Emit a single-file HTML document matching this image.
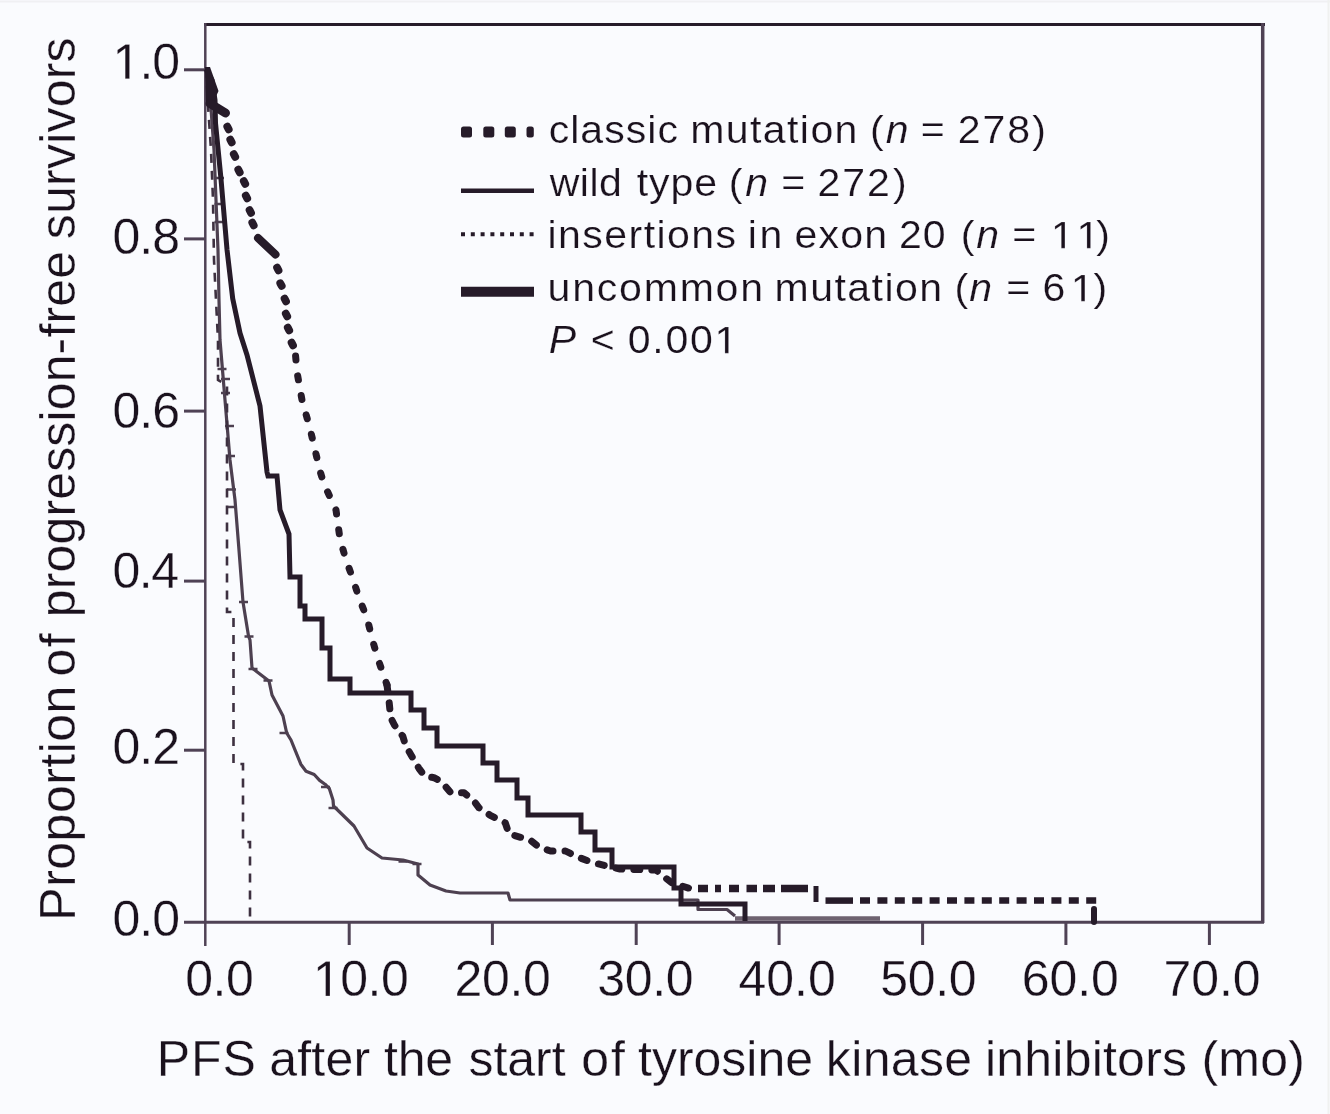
<!DOCTYPE html>
<html><head><meta charset="utf-8"><style>html,body{margin:0;padding:0;background:#fafbfe;}svg{display:block;filter:blur(0.35px);}</style></head>
<body><svg width="1330" height="1114" viewBox="0 0 1330 1114"><rect width="1330" height="1114" fill="#fafbfe"/><line x1="0" y1="1.5" x2="1330" y2="1.5" stroke="#f0f0f3" stroke-width="2"/><line x1="1328.5" y1="0" x2="1328.5" y2="1114" stroke="#f0f1f0" stroke-width="2"/><g fill="none" stroke-linecap="butt"><line x1="204" y1="24.5" x2="1265" y2="24.5" stroke="#261b29" stroke-width="3"/><line x1="1262.7" y1="23" x2="1262.7" y2="923" stroke="#4f4255" stroke-width="3.5"/><line x1="205.3" y1="23" x2="205.3" y2="946" stroke="#4f4255" stroke-width="2.5"/><line x1="184" y1="922.3" x2="1264" y2="922.3" stroke="#4f4255" stroke-width="3"/><line x1="184" y1="69.8" x2="205" y2="69.8" stroke="#4f4255" stroke-width="3"/><line x1="184" y1="238.9" x2="205" y2="238.9" stroke="#4f4255" stroke-width="3"/><line x1="184" y1="411.1" x2="205" y2="411.1" stroke="#4f4255" stroke-width="3"/><line x1="184" y1="581.1" x2="205" y2="581.1" stroke="#4f4255" stroke-width="3"/><line x1="184" y1="750.2" x2="205" y2="750.2" stroke="#4f4255" stroke-width="3"/><line x1="349.2" y1="922" x2="349.2" y2="945" stroke="#4f4255" stroke-width="3"/><line x1="492.4" y1="922" x2="492.4" y2="945" stroke="#4f4255" stroke-width="3"/><line x1="636.2" y1="922" x2="636.2" y2="945" stroke="#4f4255" stroke-width="3"/><line x1="779.1" y1="922" x2="779.1" y2="945" stroke="#4f4255" stroke-width="3"/><line x1="922.6" y1="922" x2="922.6" y2="945" stroke="#4f4255" stroke-width="3"/><line x1="1065.9" y1="922" x2="1065.9" y2="945" stroke="#4f4255" stroke-width="3"/><line x1="1209.4" y1="922" x2="1209.4" y2="945" stroke="#4f4255" stroke-width="3"/></g><polyline points="206,69 210,95 214,150 216,200 218,250 219,300 220,340 225,400 230,460 235,500 238.6,545 243,602 248.5,636 250,640 252,668 269,681 272,695 283,716 286.7,733 291,740 295.4,750.8 300.8,764.2 306,771.2 314.2,774.5 319.6,780.4 325,784.2 329.3,788.5 333,800 333.5,806 354,826 367,848 382,858 403,860 418,864 418,875 430,885 446,891 460,893 508,893 510,900 698,900 698,909.5 727,909.5 735,916" fill="none" stroke="#4d4050" stroke-width="3.2" stroke-linejoin="round"/><polyline points="735,918.5 880,918.5" fill="none" stroke="#6e6270" stroke-width="4.5"/><line x1="217.5" y1="369" x2="226.5" y2="369" stroke="#4d4050" stroke-width="2.5"/><line x1="221.0" y1="379" x2="230.0" y2="379" stroke="#4d4050" stroke-width="2.5"/><line x1="221.0" y1="393" x2="230.0" y2="393" stroke="#4d4050" stroke-width="2.5"/><line x1="225.0" y1="426" x2="234.0" y2="426" stroke="#4d4050" stroke-width="2.5"/><line x1="226.0" y1="456" x2="235.0" y2="456" stroke="#4d4050" stroke-width="2.5"/><line x1="227.0" y1="489.5" x2="236.0" y2="489.5" stroke="#4d4050" stroke-width="2.5"/><line x1="228.0" y1="507" x2="237.0" y2="507" stroke="#4d4050" stroke-width="2.5"/><line x1="239.0" y1="602" x2="248.0" y2="602" stroke="#4d4050" stroke-width="2.5"/><line x1="244.5" y1="636.5" x2="253.5" y2="636.5" stroke="#4d4050" stroke-width="2.5"/><line x1="248.5" y1="669" x2="257.5" y2="669" stroke="#4d4050" stroke-width="2.5"/><line x1="263.5" y1="680.5" x2="272.5" y2="680.5" stroke="#4d4050" stroke-width="2.5"/><line x1="279.5" y1="733" x2="288.5" y2="733" stroke="#4d4050" stroke-width="2.5"/><line x1="321.0" y1="787" x2="330.0" y2="787" stroke="#4d4050" stroke-width="2.5"/><line x1="328.5" y1="808" x2="337.5" y2="808" stroke="#4d4050" stroke-width="2.5"/><line x1="398.5" y1="861.5" x2="407.5" y2="861.5" stroke="#4d4050" stroke-width="2.5"/><line x1="412.5" y1="864" x2="421.5" y2="864" stroke="#4d4050" stroke-width="2.5"/><line x1="215.0" y1="178" x2="224.0" y2="178" stroke="#4d4050" stroke-width="2.5"/><line x1="214.5" y1="204" x2="223.5" y2="204" stroke="#4d4050" stroke-width="2.5"/><line x1="214.5" y1="222" x2="223.5" y2="222" stroke="#4d4050" stroke-width="2.5"/><polyline points="206,69 208,105 211,150 213,200 214,260 216,300 218,340 218,380 227,385 227,612 233.5,612 233.5,764 243,764 243,842 250,842 250,922" fill="none" stroke="#3d3040" stroke-width="2.6" stroke-dasharray="9 8"/><polyline points="206,69 212,80 215,100 215.5,123 221,179 227,249.5 232.7,298.6 240,333 247,355 260,406 267,472 268,476 277,476 280,510 289,534 290,577 300,577 300,606 305,606 305,619 322,619 322,648 330,648 330,679 350,679 350,693 411,693 411,710 424,710 424,728 437,728 437,746 483,746 483,763 497,763 497,780 517,780 517,798 528,798 528,815 581,815 581,832 595,832 595,850 612,850 612,867 674,867 674,888 681,888 681,904 745,904 745,921" fill="none" stroke="#261b29" stroke-width="5" stroke-linejoin="miter"/><polygon points="205,67 210,67 218.5,91 214,101 206,103" fill="#261b29"/><line x1="210" y1="103.5" x2="225.5" y2="113" stroke="#261b29" stroke-width="9" stroke-linecap="round"/><line x1="227.3" y1="126.7" x2="228.7" y2="129.3" stroke="#261b29" stroke-width="7.8" stroke-linecap="round"/><line x1="230.3" y1="139.7" x2="231.7" y2="142.3" stroke="#261b29" stroke-width="7.8" stroke-linecap="round"/><line x1="233.8" y1="154.2" x2="235.2" y2="156.8" stroke="#261b29" stroke-width="7.8" stroke-linecap="round"/><line x1="238.3" y1="169.7" x2="239.7" y2="172.3" stroke="#261b29" stroke-width="7.8" stroke-linecap="round"/><line x1="243.8" y1="181.2" x2="245.2" y2="183.8" stroke="#261b29" stroke-width="7.8" stroke-linecap="round"/><line x1="245.8" y1="195.7" x2="247.2" y2="198.3" stroke="#261b29" stroke-width="7.8" stroke-linecap="round"/><line x1="249.60000000000002" y1="210.2" x2="251.0" y2="212.8" stroke="#261b29" stroke-width="7.8" stroke-linecap="round"/><line x1="252.3" y1="222.7" x2="253.7" y2="225.3" stroke="#261b29" stroke-width="7.8" stroke-linecap="round"/><line x1="277.1" y1="267.7" x2="278.5" y2="270.3" stroke="#261b29" stroke-width="7.8" stroke-linecap="round"/><line x1="280.3" y1="283.3" x2="281.7" y2="285.90000000000003" stroke="#261b29" stroke-width="7.8" stroke-linecap="round"/><line x1="284.6" y1="298.7" x2="286.0" y2="301.3" stroke="#261b29" stroke-width="7.8" stroke-linecap="round"/><line x1="285.8" y1="313.7" x2="287.2" y2="316.3" stroke="#261b29" stroke-width="7.8" stroke-linecap="round"/><line x1="287.8" y1="327.7" x2="289.2" y2="330.3" stroke="#261b29" stroke-width="7.8" stroke-linecap="round"/><line x1="291.6" y1="342.7" x2="293.0" y2="345.3" stroke="#261b29" stroke-width="7.8" stroke-linecap="round"/><line x1="258" y1="238" x2="275.5" y2="254.5" stroke="#261b29" stroke-width="8" stroke-linecap="round"/><polyline points="295.6,356 297,372 302,400 310,428.5 320,471 324,484 336,510 340,539 346,560 353,579 359,598 367,618 373,642 379,662 387,685" fill="none" stroke="#261b29" stroke-width="7" stroke-dasharray="4 16" stroke-linecap="round" stroke-linejoin="round"/><polyline points="387,685 388.8,698.8 390.7,717.6 394.4,725 402.9,736.4 405.7,745.8 418.9,768.3 424.5,775.9 433.9,777.7 441.4,781.5 450.8,792.8 464,792.8 473.4,800.3 479,807.8 490.3,815.3 505.3,822.9 509.1,834.1 529.8,839.8 539.2,847.3 550.5,851 565.5,851 576.8,856.7 591.8,862.3 606.8,866.1 620,869 656,870 663,876 672,883 690,888.5" fill="none" stroke="#261b29" stroke-width="7" stroke-dasharray="6 12" stroke-linecap="round" stroke-linejoin="round"/><polyline points="690,888.5 816,888.5" fill="none" stroke="#261b29" stroke-width="7.5" stroke-dasharray="0 8 10 7 6 8 10 7.5 10.5 6 12 6 27 100"/><line x1="825.5" y1="900.6" x2="853" y2="900.6" stroke="#261b29" stroke-width="6.5"/><line x1="860" y1="900.6" x2="1098" y2="900.6" stroke="#261b29" stroke-width="6.5" stroke-dasharray="10 7.4"/><line x1="816" y1="886" x2="816" y2="902" stroke="#261b29" stroke-width="5"/><line x1="1094" y1="909" x2="1094" y2="922" stroke="#261b29" stroke-width="6" stroke-linecap="round"/><g font-family="Liberation Sans" fill="#1a111d" font-size="50" stroke="#fafbfe" stroke-width="0.3" style="font-kerning:none"><text x="112.60" y="78.8" letter-spacing="-1.00"> .0</text><path d="M515 0L696 0L696 1409L530 1409L197 1180L197 1010L515 1237Z" stroke-width="12.3" transform="translate(112.60,78.8) scale(0.02441,-0.02441)"/><text x="112.40" y="253.8" letter-spacing="-0.90">0.8</text><text x="112.40" y="428.3" letter-spacing="-0.90">0.6</text><text x="112.40" y="588.4" letter-spacing="-1.40">0.4</text><text x="112.40" y="763.8" letter-spacing="-0.90">0.2</text><text x="112.40" y="936" letter-spacing="-0.90">0.0</text><text x="185.20" y="996" letter-spacing="-0.45">0.0</text><text x="313.00" y="996" letter-spacing="-0.50"> 0.0</text><path d="M515 0L696 0L696 1409L530 1409L197 1180L197 1010L515 1237Z" stroke-width="12.3" transform="translate(313.00,996) scale(0.02441,-0.02441)"/><text x="454.60" y="996" letter-spacing="-0.37">20.0</text><text x="597.30" y="996" letter-spacing="-0.37">30.0</text><text x="738.60" y="996" letter-spacing="-0.07">40.0</text><text x="880.20" y="996" letter-spacing="-0.33">50.0</text><text x="1021.70" y="996" letter-spacing="-0.07">60.0</text><text x="1163.40" y="996" letter-spacing="-0.03">70.0</text><text x="156.80" y="1076" letter-spacing="0.90">PFS</text><text x="269.20" y="1076" letter-spacing="0.20">after</text><text x="384.00" y="1076" letter-spacing="-0.25">the</text><text x="468.50" y="1076" letter-spacing="-0.05">start</text><text x="581.20" y="1076" letter-spacing="2.00">of</text><text x="638.00" y="1076" letter-spacing="0.00">tyrosine</text><text x="825.80" y="1076" letter-spacing="0.36">kinase</text><text x="985.00" y="1076" letter-spacing="0.21">inhibitors</text><text x="1201.40" y="1076" letter-spacing="0.27">(mo)</text><g transform="translate(74.5,0) rotate(-90)"><text x="-920.70" y="0" letter-spacing="0.49">Proportion</text><text x="-676.50" y="0" letter-spacing="1.50">of</text><text x="-617.30" y="0" letter-spacing="0.15">progression-free</text><text x="-239.20" y="0" letter-spacing="0.22">survivors</text></g></g><g font-family="Liberation Sans" fill="#1a111d" font-size="38" transform="scale(1.08,1)" stroke="#fafbfe" stroke-width="0.2" style="font-kerning:none"><text x="508.00" y="143.1" letter-spacing="0.96">classic</text><text x="639.13" y="143.1" letter-spacing="1.30">mutation</text><text x="805.50" y="143.1" letter-spacing="0.00">(</text><text x="820.11" y="143.1" letter-spacing="0.00" font-style="italic">n</text><text x="852.63" y="143.1" letter-spacing="0.00">=</text><text x="886.89" y="143.1" letter-spacing="1.71">278</text><text x="955.85" y="143.1" letter-spacing="0.00">)</text><text x="509.07" y="195.6" letter-spacing="0.42">wild</text><text x="589.56" y="195.6" letter-spacing="0.83">type</text><text x="674.85" y="195.6" letter-spacing="0.00">(</text><text x="690.11" y="195.6" letter-spacing="0.00" font-style="italic">n</text><text x="723.46" y="195.6" letter-spacing="0.00">=</text><text x="756.98" y="195.6" letter-spacing="1.75">272</text><text x="826.78" y="195.6" letter-spacing="0.00">)</text><text x="507.00" y="248.2" letter-spacing="1.34">insertions</text><text x="692.46" y="248.2" letter-spacing="2.30">in</text><text x="735.59" y="248.2" letter-spacing="1.16">exon</text><text x="832.44" y="248.2" letter-spacing="0.81">20</text><text x="889.67" y="248.2" letter-spacing="0.00">(</text><text x="903.91" y="248.2" letter-spacing="0.00" font-style="italic">n</text><text x="937.35" y="248.2" letter-spacing="0.00">=</text><text x="973.13" y="248.2" letter-spacing="2.59">  </text><path d="M515 0L696 0L696 1409L530 1409L197 1180L197 1010L515 1237Z" stroke-width="10.8" transform="translate(973.13,248.2) scale(0.01855,-0.01855)"/><path d="M515 0L696 0L696 1409L530 1409L197 1180L197 1010L515 1237Z" stroke-width="10.8" transform="translate(996.86,248.2) scale(0.01855,-0.01855)"/><text x="1015.11" y="248.2" letter-spacing="0.00">)</text><text x="507.00" y="301.2" letter-spacing="1.66">uncommon</text><text x="717.19" y="301.2" letter-spacing="1.34">mutation</text><text x="883.83" y="301.2" letter-spacing="0.00">(</text><text x="897.52" y="301.2" letter-spacing="0.00" font-style="italic">n</text><text x="931.80" y="301.2" letter-spacing="0.00">=</text><text x="965.31" y="301.2" letter-spacing="5.13">6 </text><path d="M515 0L696 0L696 1409L530 1409L197 1180L197 1010L515 1237Z" stroke-width="10.8" transform="translate(991.58,301.2) scale(0.01855,-0.01855)"/><text x="1012.43" y="301.2" letter-spacing="0.00">)</text><text x="508.07" y="353.2" letter-spacing="0.00" font-style="italic">P</text><text x="546.89" y="353.2" letter-spacing="0.00">&lt;</text><text x="581.33" y="353.2" letter-spacing="1.60">0.00 </text><path d="M515 0L696 0L696 1409L530 1409L197 1180L197 1010L515 1237Z" stroke-width="10.8" transform="translate(661.68,353.2) scale(0.01855,-0.01855)"/></g><rect x="461" y="126.5" width="11" height="11" rx="2.5" fill="#261b29"/><rect x="483.3" y="126.5" width="11" height="11" rx="2.5" fill="#261b29"/><rect x="504.8" y="126.5" width="11" height="11" rx="2.5" fill="#261b29"/><rect x="526.5" y="126.5" width="7.3" height="11" rx="2.5" fill="#261b29"/><line x1="461" y1="190.7" x2="534" y2="190.7" stroke="#261b29" stroke-width="4.5"/><line x1="461" y1="234.3" x2="534" y2="234.3" stroke="#261b29" stroke-width="4" stroke-dasharray="4 5.8"/><line x1="461" y1="291.8" x2="534" y2="291.8" stroke="#261b29" stroke-width="10"/></svg></body></html>
